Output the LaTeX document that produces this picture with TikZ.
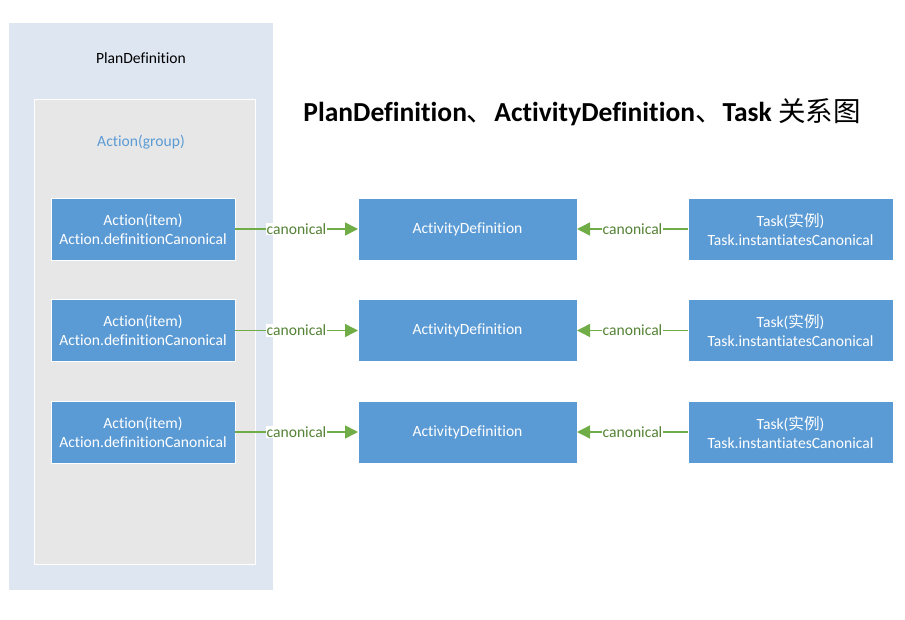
\documentclass[tikz,border=0pt]{standalone}
\usepackage{fontspec}
\setmainfont{Carlito}[Ligatures=CommonOff]
\newfontfamily\cjk{Noto Sans CJK SC}
\usetikzlibrary{arrows.meta, positioning}

\definecolor{planblue}{HTML}{DEE6F2}
\definecolor{groupgray}{HTML}{E7E7E7}
\definecolor{boxblue}{HTML}{5B9BD5}
\definecolor{linkgreen}{HTML}{70AD47}
\definecolor{labelgreen}{HTML}{548235}

\begin{document}
\begin{tikzpicture}[x=1pt, y=-1pt, >={Triangle[length=13pt,width=13pt]},
    font=\fontsize{15.6}{19}\selectfont,
    box/.style={draw=white, fill=boxblue, text=white, align=center, line width=0.8pt, outer sep=0pt},
    actionbox/.style={box, minimum width=184pt, minimum height=62pt},
    defbox/.style={box, minimum width=219pt, minimum height=62pt},
    taskbox/.style={box, minimum width=205pt, minimum height=62pt},
    link/.style={draw=linkgreen, line width=1.5pt},
    linklabel/.style={fill=white, text=labelgreen, inner sep=1pt}]
    \useasboundingbox (0,0) rectangle (905,620);

    %the containers
    \fill[planblue] (9,23) rectangle (273,590);
    \draw[draw=white, fill=groupgray] (34,99) rectangle (255,564);
    \node (plan) at (141,58) {PlanDefinition};
    \node[text=boxblue] (group) at (141,142) {Action(group)};

    %the title
    \node (title) at (582,112) {\fontsize{27.5}{30}\selectfont\bfseries PlanDefinition{\cjk\mdseries 、}ActivityDefinition{\cjk\mdseries 、}Task {\cjk\mdseries 关系图}};

    %define the boxes
    \node[actionbox] (a1) at (143,229) {Action(item)\\Action.definitionCanonical};
    \node[actionbox] (a2) [below=39.5pt of a1] {Action(item)\\Action.definitionCanonical};
    \node[actionbox] (a3) [below=39.5pt of a2] {Action(item)\\Action.definitionCanonical};
    \node[defbox] (d1) [right=123pt of a1] {ActivityDefinition};
    \node[defbox] (d2) [right=123pt of a2] {ActivityDefinition};
    \node[defbox] (d3) [right=123pt of a3] {ActivityDefinition};
    \node[taskbox] (t1) [right=111pt of d1] {Task({\cjk 实例})\\Task.instantiatesCanonical};
    \node[taskbox] (t2) [right=111pt of d2] {Task({\cjk 实例})\\Task.instantiatesCanonical};
    \node[taskbox] (t3) [right=111pt of d3] {Task({\cjk 实例})\\Task.instantiatesCanonical};

    %define the links
    \foreach \i in {1,2,3} {
        \path[link, ->] (a\i) -- node[linklabel, pos=0.5] {canonical} (d\i);
        \path[link, ->] (t\i) -- node[linklabel, pos=0.5] {canonical} (d\i);
    }
\end{tikzpicture}
\end{document}
